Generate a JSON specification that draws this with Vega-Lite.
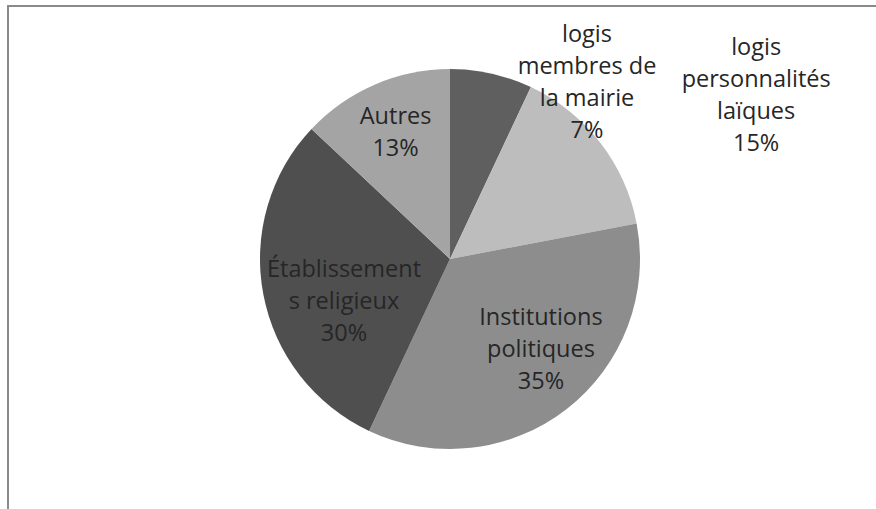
{
  "$schema": "https://vega.github.io/schema/vega-lite/v6.json",
  "width": 884,
  "height": 506,
  "autosize": {"type": "none"},
  "padding": {"left": 8, "top": 6, "right": -16, "bottom": -3},
  "background": "white",
  "config": {
    "view": {"stroke": null},
    "text": {"font": "Open Sans", "fontSize": 23.5, "color": "#262626", "lineBreak": "\n", "lineHeight": 32, "baseline": "middle", "align": "center"}
  },
  "data": {
    "values": [
      {"category": "logis membres de la mairie", "label": "logis\nmembres de\nla mairie", "value": 7, "i": 1},
      {"category": "logis personnalités laïques", "label": "logis\npersonnalités\nlaïques", "value": 15, "i": 2},
      {"category": "Institutions politiques", "label": "Institutions\npolitiques", "value": 35, "i": 3},
      {"category": "Établissements religieux", "label": "Établissement\ns religieux", "value": 30, "i": 4},
      {"category": "Autres", "label": "Autres", "value": 13, "i": 5}
    ]
  },
  "transform": [
    {"calculate": "datum.label + '\\n' + datum.value + '%'", "as": "txt"}
  ],
  "layer": [
    {
      "mark": {"type": "rect", "fill": null, "stroke": "#8a8a8a", "strokeWidth": 1.5},
      "encoding": {}
    },
    {
      "encoding": {
        "theta": {"field": "value", "type": "quantitative", "stack": true},
        "order": {"field": "i", "type": "quantitative", "sort": "ascending"}
      },
      "layer": [
        {
          "mark": {"type": "arc", "outerRadius": 190},
          "encoding": {
            "color": {
              "field": "category",
              "type": "nominal",
              "legend": null,
              "scale": {
                "domain": ["logis membres de la mairie", "logis personnalités laïques", "Institutions politiques", "Établissements religieux", "Autres"],
                "range": ["#5f5f5f", "#bdbdbd", "#8d8d8d", "#4f4f4f", "#a4a4a4"]
              }
            }
          }
        },
        {
          "mark": {"type": "text", "radius": 137, "dx": 0, "dy": -16.5},
          "encoding": {"text": {"condition": {"test": "datum.category === 'Autres'", "field": "txt"}, "value": ""}}
        },
        {
          "mark": {"type": "text", "radius": 112, "dx": 4, "dy": -10},
          "encoding": {"text": {"condition": {"test": "datum.category === 'Établissements religieux'", "field": "txt"}, "value": ""}}
        },
        {
          "mark": {"type": "text", "radius": 128, "dx": 12.5, "dy": -42},
          "encoding": {"text": {"condition": {"test": "datum.category === 'Institutions politiques'", "field": "txt"}, "value": ""}}
        },
        {
          "mark": {"type": "text", "radius": 204, "dx": 92.5, "dy": -25},
          "encoding": {"text": {"condition": {"test": "datum.category === 'logis membres de la mairie'", "field": "txt"}, "value": ""}}
        },
        {
          "mark": {"type": "text", "radius": 340, "dx": 37.5, "dy": -2.5},
          "encoding": {"text": {"condition": {"test": "datum.category === 'logis personnalités laïques'", "field": "txt"}, "value": ""}}
        }
      ]
    }
  ]
}
